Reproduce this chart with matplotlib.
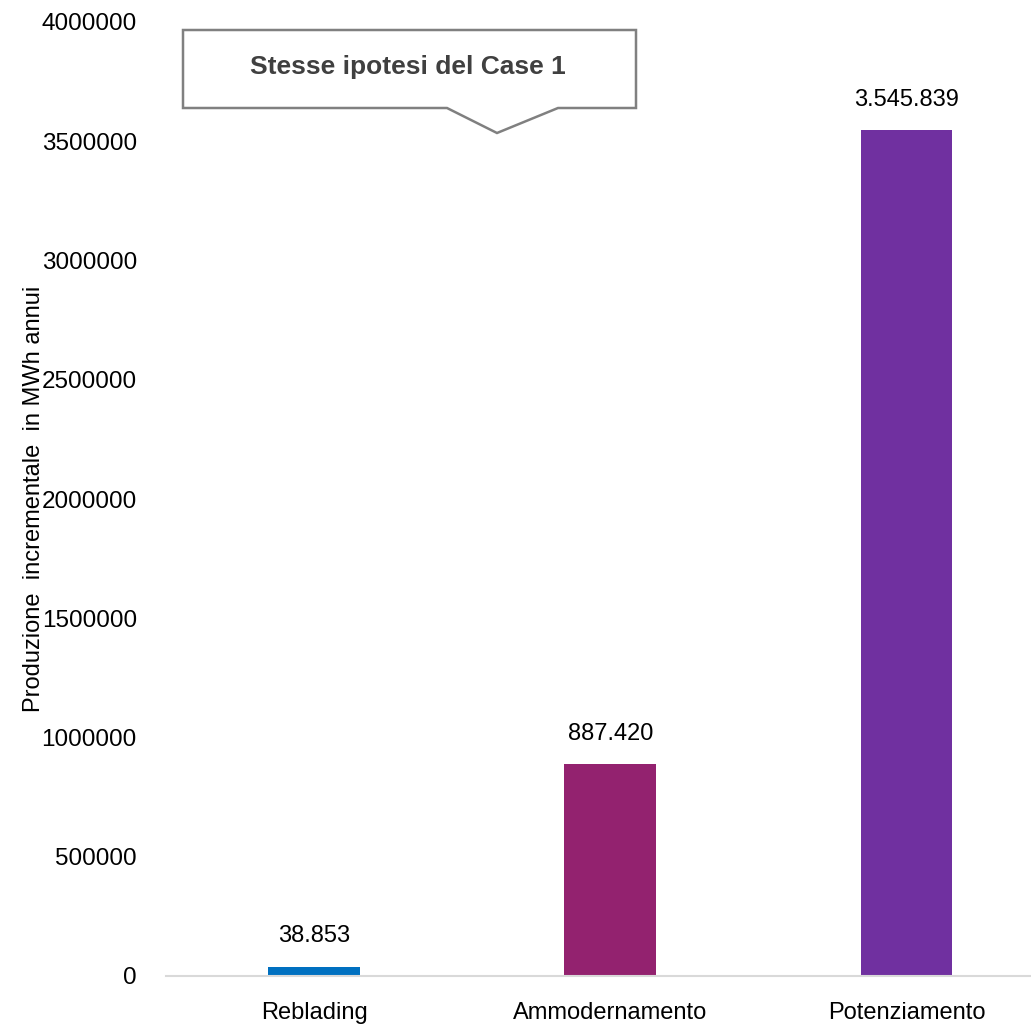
import matplotlib
matplotlib.use('Agg')
import matplotlib.pyplot as plt
from matplotlib.patches import Polygon

# data
categories = ['Reblading', 'Ammodernamento', 'Potenziamento']
values = [38853, 887420, 3545839]
value_labels = ['38.853', '887.420', '3.545.839']
colors = ['#0070C0', '#93226F', '#7030A0']
yticks = [0, 500000, 1000000, 1500000, 2000000, 2500000, 3000000, 3500000, 4000000]

plt.rcParams['font.family'] = ['Liberation Sans', 'DejaVu Sans']

W, H = 1031, 1026
fig = plt.figure(figsize=(W / 100, H / 100), dpi=100)
ax = fig.add_axes([166 / W, (H - 976) / H, 1 - 166 / W, (976 - 22) / H])

x = range(len(categories))
ax.bar(x, values, width=0.31, color=colors, zorder=2)

for i, v in enumerate(values):
    ax.annotate(value_labels[i], (i, v), xytext=(0, 14), textcoords='offset points',
                ha='center', va='bottom', fontsize=17, color='#000000')

ax.set_xlim(-0.5, 2.42)
ax.set_ylim(0, 4000000)
ax.set_yticks(yticks)
ax.set_yticklabels([str(t) for t in yticks])
ax.set_xticks(list(x))
ax.set_xticklabels(categories)
ax.tick_params(axis='y', length=0, pad=21, labelsize=17.5)
ax.tick_params(axis='x', length=0, pad=19, labelsize=17)

for s in ['top', 'right', 'left']:
    ax.spines[s].set_visible(False)
ax.spines['bottom'].set_color('#d9d9d9')
ax.spines['bottom'].set_linewidth(1.5)

ax.set_ylabel('Produzione  incrementale  in MWh annui', fontsize=17)
ax.yaxis.set_label_coords(-0.14, 0.5)

# callout box
pts = [(183, 30), (636, 30), (636, 108), (558, 108), (497, 133), (447, 108), (183, 108)]
pts = [(px / W, 1 - py / H) for px, py in pts]
fig.patches.append(Polygon(pts, closed=True, transform=fig.transFigure,
                           facecolor='white', edgecolor='#808080', linewidth=1.8))
fig.text(408 / W, 1 - 67 / H, 'Stesse ipotesi del Case 1', ha='center', va='center',
         fontsize=19, fontweight='bold', color='#404040')

fig.savefig('out.png', dpi=100)
